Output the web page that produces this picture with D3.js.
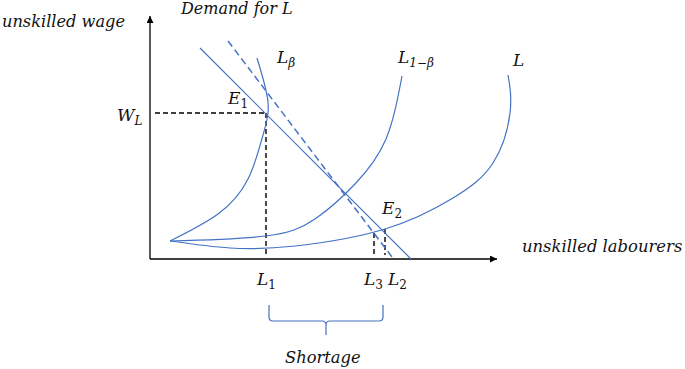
<!DOCTYPE html>
<html>
<head>
<meta charset="utf-8">
<script src="https://cdn.jsdelivr.net/npm/d3@7/dist/d3.min.js"></script>
<style>
  body { margin:0; background:#fff; }
  text { font-family:"DejaVu Serif", serif; font-style:italic; fill:#111; }
</style>
</head>
<body>
<script>
// curves (labour, wage)
var curveLbeta = [[2.0,1.8],[6.8,4.5],[9.8,8.0],[11.3,12.4],[11.8,15.7],[10.7,20.1]];
var curveL1beta = [[2.0,1.8],[11.6,2.3],[16.5,4.0],[20.5,7.5],[23.6,12.0],[25.2,18.3]];
var curveL = [[2.0,1.8],[8.0,1.1],[14.5,1.3],[23.5,3.0],[30.3,6.1],[34.3,9.6],[36.0,14.6],[35.8,18.4]];
var demand = [[5.0,21.1],[26.1,0]];
var demandShift = [[7.8,21.8],[24.2,0.2]];

var E1 = [11.6,14.6];
var E2 = [23.5,3.0];
var L3pt = [22.4,2.6];
var axisEnd = [34.7,24.3];

var width = 685, height = 369;

var x = d3.scaleLinear().domain([0,35]).range([150,500]);
var y = d3.scaleLinear().domain([0,24.5]).range([259,14]);

var svg = d3.select("body").append("svg")
    .attr("width",width)
    .attr("height",height);

var blue = "#4472c4";

var line = d3.line()
    .x(function(d){return x(d[0]);})
    .y(function(d){return y(d[1]);});
var smooth = d3.line()
    .x(function(d){return x(d[0]);})
    .y(function(d){return y(d[1]);})
    .curve(d3.curveNatural);

// axes with arrows
svg.append("defs").append("marker")
    .attr("id","arrow")
    .attr("viewBox","0 0 10 10")
    .attr("refX",10).attr("refY",5)
    .attr("markerWidth",7).attr("markerHeight",7)
    .attr("markerUnits","userSpaceOnUse")
    .attr("orient","auto")
    .append("path")
    .attr("d","M0,0 L10,5 L0,10 Z")
    .attr("fill","#000");

svg.append("line")
    .attr("x1",x(0)).attr("y1",y(0))
    .attr("x2",x(0)).attr("y2",y(axisEnd[1]))
    .attr("stroke","#000").attr("stroke-width",1.3)
    .attr("marker-end","url(#arrow)");
svg.append("line")
    .attr("x1",x(0)).attr("y1",y(0))
    .attr("x2",x(axisEnd[0])).attr("y2",y(0))
    .attr("stroke","#000").attr("stroke-width",1.3)
    .attr("marker-end","url(#arrow)");

// black dashed guides
var guides = [
  [[0.5,E1[1]],E1],
  [E1,[E1[0],0.5]],
  [L3pt,[L3pt[0],0.4]],
  [E2,[E2[0],0.4]]
];
svg.selectAll(".guide")
    .data(guides)
    .enter()
    .append("path")
    .classed("guide",true)
    .attr("d",line)
    .attr("fill","none")
    .attr("stroke","#000")
    .attr("stroke-width",1.4)
    .attr("stroke-dasharray","5,3");

// supply curves
svg.selectAll(".curve")
    .data([curveLbeta,curveL1beta,curveL])
    .enter()
    .append("path")
    .classed("curve",true)
    .attr("d",smooth)
    .attr("fill","none")
    .attr("stroke",blue)
    .attr("stroke-width",1.2);

// demand lines
svg.append("path")
    .attr("d",line(demand))
    .attr("fill","none")
    .attr("stroke",blue)
    .attr("stroke-width",1.2);
svg.append("path")
    .attr("d",line(demandShift))
    .attr("fill","none")
    .attr("stroke",blue)
    .attr("stroke-width",1.5)
    .attr("stroke-dasharray","7,4");

// brace under L1..L2
var bx1 = x(E1[0])+3, bx2 = x(E2[0])-2, bm = (bx1+bx2)/2;
svg.append("path")
    .attr("d","M"+bx1+",305 V317 Q"+bx1+",321 "+(bx1+4)+",321 H"+(bm-4)+" Q"+bm+",321 "+bm+",325 V335"
        +" M"+bm+",325 Q"+bm+",321 "+(bm+4)+",321 H"+(bx2-4)+" Q"+bx2+",321 "+bx2+",317 V305")
    .attr("fill","none")
    .attr("stroke",blue)
    .attr("stroke-width",1.2);

// text
var words = [
  {t:"unskilled wage", x:2, y:27, s:16.2},
  {t:"Demand for L", x:181, y:14, s:16},
  {t:"unskilled labourers", x:522, y:252, s:16.4},
  {t:"Shortage", x:285, y:363, s:16.3}
];
svg.selectAll(".word")
    .data(words)
    .enter()
    .append("text")
    .classed("word",true)
    .attr("x",function(d){return d.x;})
    .attr("y",function(d){return d.y;})
    .attr("font-size",function(d){return d.s;})
    .text(function(d){return d.t;});

var symbols = [
  {m:"W", s:"L", x:117, y:121},
  {m:"E", s:"1", x:228, y:104},
  {m:"L", s:"β", x:277, y:63},
  {m:"L", s:"1−β", x:398, y:63},
  {m:"L", s:"", x:513, y:66},
  {m:"E", s:"2", x:382, y:214},
  {m:"L", s:"1", x:257, y:285},
  {m:"L", s:"3", x:364, y:285},
  {m:"L", s:"2", x:388, y:285}
];
var sym = svg.selectAll(".sym")
    .data(symbols)
    .enter()
    .append("text")
    .classed("sym",true)
    .attr("x",function(d){return d.x;})
    .attr("y",function(d){return d.y;})
    .attr("font-size",17);
sym.append("tspan").text(function(d){return d.m;});
sym.append("tspan")
    .attr("font-size",12)
    .attr("font-style",function(d){return /^[0-9]$/.test(d.s)?"normal":"italic";})
    .attr("dy",4)
    .text(function(d){return d.s;});
</script>
</body>
</html>
